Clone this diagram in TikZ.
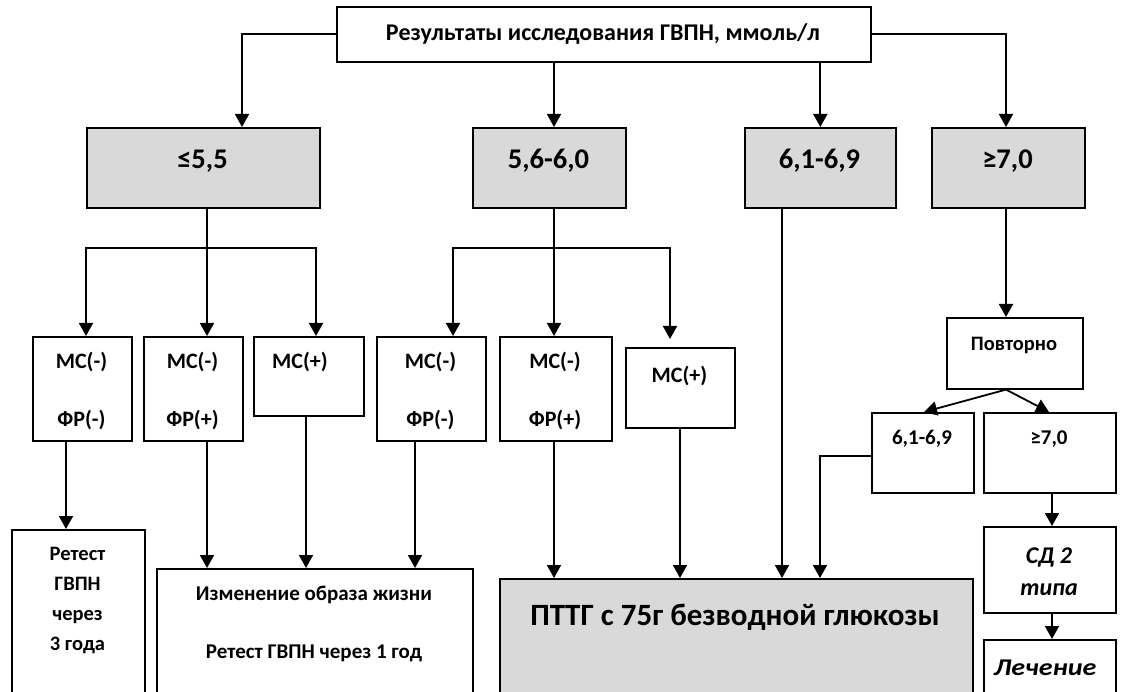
\documentclass[tikz,border=0pt]{standalone}
\usepackage{fontspec}
\usepackage{graphicx}
\setmainfont{Carlito}
\usetikzlibrary{arrows.meta}
\definecolor{boxgray}{HTML}{D9D9D9}
\tikzset{
  box/.style={draw, line width=1.6pt, inner sep=0pt, anchor=north west, fill=white},
  gbox/.style={box, fill=boxgray},
  arr/.style={line width=1.8pt, -{Triangle[width=14pt,length=13pt]}},
  ln/.style={line width=1.8pt},
  txt/.style={inner sep=0pt, anchor=center, align=center},
}
\newcommand\fs[2]{\bfseries\fontsize{#1}{#2}\selectfont}
\begin{document}
\begin{tikzpicture}[x=1pt,y=-1pt]
\useasboundingbox (0,0) rectangle (1133,692);
\clip (0,0) rectangle (1133,692);
% ---------- boxes
\node[box,  minimum width=534pt, minimum height=55pt] (top) at (336,6) {};
\node[gbox, minimum width=233pt, minimum height=80pt] (g1) at (86,127) {};
\node[gbox, minimum width=153pt, minimum height=80pt] (g2) at (472,127) {};
\node[gbox, minimum width=151pt, minimum height=80pt] (g3) at (744,127) {};
\node[gbox, minimum width=153pt, minimum height=80pt] (g4) at (931,127) {};
\node[box, minimum width=99pt,  minimum height=104pt] (b1) at (32,336) {};
\node[box, minimum width=99pt,  minimum height=104pt] (b2) at (143,336) {};
\node[box, minimum width=110pt, minimum height=79pt]  (b3) at (253,336) {};
\node[box, minimum width=109pt, minimum height=104pt] (b4) at (376,336) {};
\node[box, minimum width=112pt, minimum height=104pt] (b5) at (499,336) {};
\node[box, minimum width=109pt, minimum height=80pt]  (b6) at (625,347) {};
\node[box, minimum width=136pt, minimum height=71pt]  (pov) at (946,317) {};
\node[box, minimum width=102pt, minimum height=80pt]  (r1) at (871,412) {};
\node[box, minimum width=132pt, minimum height=80pt]  (r2) at (983,412) {};
\node[box, minimum width=133pt, minimum height=200pt] (ret) at (11,529) {};
\node[box, minimum width=316pt, minimum height=200pt] (izm) at (156,568) {};
\node[gbox, minimum width=473pt, minimum height=200pt] (ptt) at (499,578) {};
\node[box, minimum width=132pt, minimum height=86pt]  (sd) at (983,526) {};
\node[box, minimum width=132pt, minimum height=100pt] (lech) at (983,639) {};
% ---------- texts
\node[txt, font=\fs{24}{28}] (ttop) at (603,34) {Результаты исследования ГВПН, ммоль/л};
\node[txt, font=\fs{28.5}{32}] (tg1) at (202.5,161) {≤5,5};
\node[txt, font=\fs{28.5}{32}] (tg2) at (548.5,161) {5,6-6,0};
\node[txt, font=\fs{28.5}{32}] (tg3) at (819.5,161) {6,1-6,9};
\node[txt, font=\fs{28.5}{32}] (tg4) at (1007.5,161) {≥7,0};
\node[txt, font=\fs{22}{58}] (tb1) at (81.5,391) {МС(-)\\ФР(-)};
\node[txt, font=\fs{22}{58}] (tb2) at (192.5,391) {МС(-)\\ФР(+)};
\node[txt, font=\fs{22}{26}] (tb3) at (300,362) {МС(+)};
\node[txt, font=\fs{22}{58}] (tb4) at (430.5,391) {МС(-)\\ФР(-)};
\node[txt, font=\fs{22}{58}] (tb5) at (555,391) {МС(-)\\ФР(+)};
\node[txt, font=\fs{22}{26}] (tb6) at (679.5,376) {МС(+)};
\node[txt, font=\fs{20.5}{24}] (tpov) at (1014,345) {Повторно};
\node[txt, font=\fs{21}{24}] (tr1) at (922,439) {6,1-6,9};
\node[txt, font=\fs{21}{24}] (tr2) at (1049,439) {≥7,0};
\node[txt, font=\fs{20.5}{30}] (tret) at (77.5,601) {Ретест\\ГВПН\\через\\3 года};
\node[txt, font=\fs{21}{58}] (tizm) at (314,624) {Изменение образа жизни\\Ретест ГВПН через 1 год};
\node[txt, font=\fs{31}{36}] (tptt) at (735,617) {ПТТГ с 75г безводной глюкозы};
\node[txt, font=\fs{24}{32}\itshape] (tsd) at (1049,572) {СД 2\\типа};
\node[txt, font=\fs{24}{28}\itshape] (tlech) at (1045,668) {\scalebox{1.17}[1]{Лечение}};
% ---------- column coordinates
\foreach \xx in {66,86,207,242,306,316,415,453,554,670,680,782,820,924,1006,1049,1052}
  \coordinate (x\xx) at (\xx,0);
\coordinate (bar) at (0,248);
\coordinate (y456) at (0,456);
\coordinate (b6in) at (670,339);
% ---------- connectors
\draw[arr] (top.west) -| (x242 |- g1.north);
\draw[arr] (x554 |- top.south) -- (x554 |- g2.north);
\draw[arr] (g3.north |- top.south) -- (g3.north);
\draw[arr] (top.east) -| (x1006 |- g4.north);
% group 1
\draw[arr] (x207 |- g1.south) -- (x207 |- b2.north);
\draw[arr] (x207 |- bar) -| (x86 |- b1.north);
\draw[arr] (x207 |- bar) -| (x316 |- b3.north);
% group 2
\draw[arr] (x554 |- g2.south) -- (x554 |- b5.north);
\draw[arr] (x554 |- bar) -| (x453 |- b4.north);
\draw[arr] (x554 |- bar) -| (b6in);
% group 3, 4
\draw[arr] (x782 |- g3.south) -- (x782 |- ptt.north);
\draw[arr] (x1006 |- g4.south) -- (x1006 |- pov.north);
\draw[arr] (x1006 |- pov.south) -- (x924 |- r1.north);
\draw[arr] (x1006 |- pov.south) -- (x1049 |- r2.north);
\draw[arr] (r1.west |- y456) -| (x820 |- ptt.north);
\draw[arr] (x1052 |- r2.south) -- (x1052 |- sd.north);
\draw[arr] (x1052 |- sd.south) -- (x1052 |- lech.north);
% lower level
\draw[arr] (x66 |- b1.south) -- (x66 |- ret.north);
\draw[arr] (x207 |- b2.south) -- (x207 |- izm.north);
\draw[arr] (x306 |- b3.south) -- (x306 |- izm.north);
\draw[arr] (x415 |- b4.south) -- (x415 |- izm.north);
\draw[arr] (x554 |- b5.south) -- (x554 |- ptt.north);
\draw[arr] (x680 |- b6.south) -- (x680 |- ptt.north);
\end{tikzpicture}
\end{document}
